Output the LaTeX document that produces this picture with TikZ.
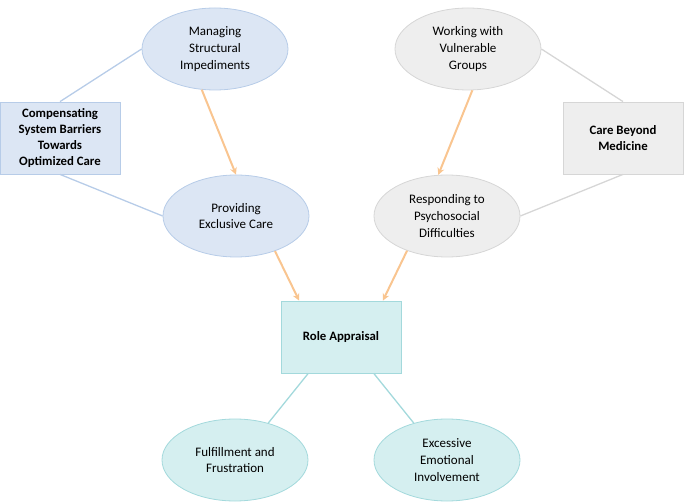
\documentclass[tikz,border=0pt]{standalone}
\usepackage{fontspec}
\setmainfont{Carlito}
\usetikzlibrary{shapes.geometric,arrows.meta}
\definecolor{bfill}{HTML}{DCE6F4}
\definecolor{bdraw}{HTML}{B7CCE8}
\definecolor{gfill}{HTML}{EEEEEE}
\definecolor{gdraw}{HTML}{D6D6D6}
\definecolor{tfill}{HTML}{D5EFF0}
\definecolor{tdraw}{HTML}{A3D9DC}
\definecolor{orng}{HTML}{F9C590}
\tikzset{
  ell/.style={ellipse, minimum width=146pt, minimum height=82pt, inner sep=0pt, align=center, font=\fontsize{13}{16.7}\selectfont, line width=0.8pt},
  boxn/.style={rectangle, minimum width=120pt, minimum height=72pt, inner sep=0pt, align=center, font=\fontsize{12.8}{16}\selectfont\bfseries, line width=0.8pt},
  blu/.style={fill=bfill, draw=bdraw},
  gry/.style={fill=gfill, draw=gdraw},
  tea/.style={fill=tfill, draw=tdraw},
  bline/.style={draw=bdraw, line width=1.3pt},
  gline/.style={draw=gdraw, line width=1.3pt},
  tline/.style={draw=tdraw, line width=1.3pt},
  oarr/.style={draw=orng, line width=2pt, -{Stealth[length=7pt,width=7pt]}}
}
\begin{document}
\begin{tikzpicture}[x=1pt,y=-1pt]
\useasboundingbox (0,0) rectangle (685,502);
\node[ell,blu] (man) at (215,49) {Managing\\Structural\\Impediments};
\node[boxn,blu] (comp) at (60,138) {Compensating\\System Barriers\\Towards\\Optimized Care};
\node[ell,blu] (prov) at (236,216) {Providing\\Exclusive Care};
\node[ell,gry] (work) at (468,49) {Working with\\Vulnerable\\Groups};
\node[boxn,gry] (care) at (623,138) {Care Beyond\\Medicine};
\node[ell,gry] (resp) at (447,216) {Responding to\\Psychosocial\\Difficulties};
\node[boxn,tea] (role) at (341,337) {Role Appraisal};
\node[ell,tea] (ful) at (235,460) {Fulfillment and\\Frustration};
\node[ell,tea] (exc) at (447,460) {Excessive\\Emotional\\Involvement};
\draw[bline] (comp.north) -- (man.west);
\draw[bline] (comp.south) -- (prov.west);
\draw[gline] (work.east) -- (care.north);
\draw[gline] (care.south) -- (resp.east);
\draw[oarr] (man.252) -- (prov.north);
\draw[oarr] (work.276) -- (resp.102);
\draw[oarr] (prov.318) -- (role.139);
\draw[oarr] (resp.221) -- (role.41);
\draw[tline] (role.228) -- (ful.48);
\draw[tline] (role.312) -- (exc.132);
\end{tikzpicture}
\end{document}
